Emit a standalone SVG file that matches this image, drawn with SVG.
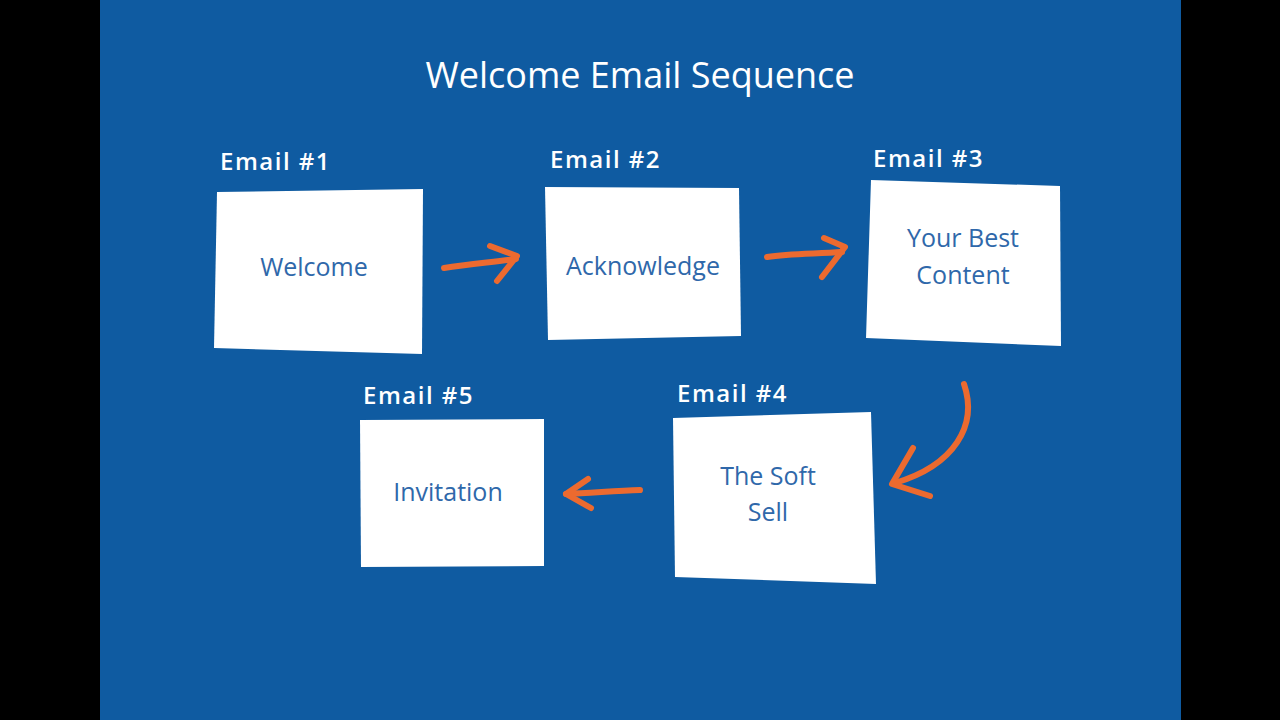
<svg xmlns="http://www.w3.org/2000/svg" width="1280" height="720" viewBox="0 0 1280 720">
<style>
.bg{fill:#0f5ba1}
.card{fill:#ffffff}
.lbl{font-family:"Open Sans","Liberation Sans",sans-serif;font-size:24px;fill:#ffffff;font-weight:600;letter-spacing:1.5px}
.title{font-family:"Open Sans","Liberation Sans",sans-serif;font-size:36px;fill:#ffffff;text-anchor:middle}
.txt{font-family:"Open Sans","Liberation Sans",sans-serif;font-size:25px;fill:#2f68aa;text-anchor:middle}
.arr{fill:none;stroke:#ec6a2f;stroke-width:6;stroke-linecap:round;stroke-linejoin:round}
</style>
<rect x="0" y="0" width="1280" height="720" fill="#000000"/>
<rect class="bg" x="100" y="0" width="1081" height="720"/>
<text class="title" x="640" y="88">Welcome Email Sequence</text>
<g id="email1">
<text class="lbl" x="220" y="170">Email #1</text>
<polygon class="card" points="217,192 423,189 422,354 214,348"/>
<text class="txt" x="314" y="276">Welcome</text>
</g>
<g id="email2">
<text class="lbl" x="550" y="168">Email #2</text>
<polygon class="card" points="545,187 739,188 741,336 548,340"/>
<text class="txt" x="643" y="275">Acknowledge</text>
</g>
<g id="email3">
<text class="lbl" x="873" y="167">Email #3</text>
<polygon class="card" points="871,180 1060,186 1061,346 866,338"/>
<text class="txt" x="963" y="247">Your Best</text>
<text class="txt" x="963" y="284">Content</text>
</g>
<g id="email4">
<text class="lbl" x="677" y="402">Email #4</text>
<polygon class="card" points="673,418 871,412 876,584 675,577"/>
<text class="txt" x="768" y="485">The Soft</text>
<text class="txt" x="768" y="521">Sell</text>
</g>
<g id="email5">
<text class="lbl" x="363" y="404">Email #5</text>
<polygon class="card" points="360,420 544,419 544,566 361,567"/>
<text class="txt" x="448" y="501">Invitation</text>
</g>
<g id="connectors">
<path class="arr" d="M444,268 C470,264 495,262 516,259"/>
<path class="arr" d="M490,246 L517,256 L497,281"/>
<path class="arr" d="M767,257 C790,253 815,254 842,252"/>
<path class="arr" d="M824,238 L845,247 L822,277"/>
<path class="arr" d="M964,384 C978,425 955,465 895,483"/>
<path class="arr" d="M913,448 L892,484 L930,496"/>
<path class="arr" d="M640,490 C615,491 590,493 566,494"/>
<path class="arr" d="M588,479 L566,494 L591,508"/>
</g>
</svg>
